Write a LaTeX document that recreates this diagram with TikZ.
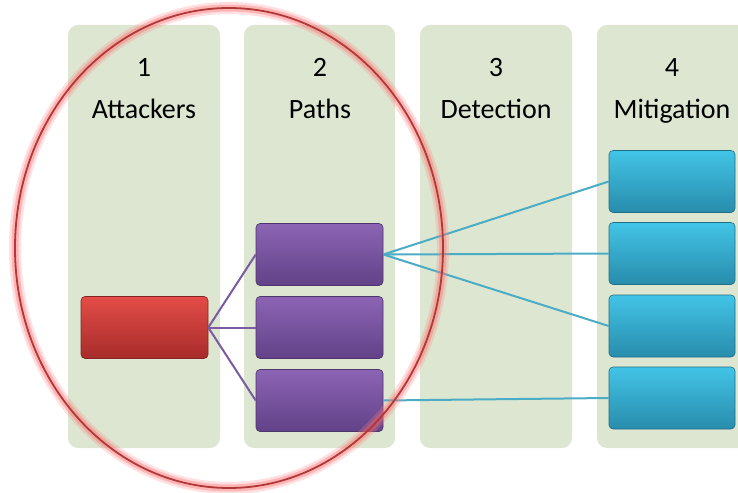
\documentclass[tikz,border=0pt]{standalone}
\usepackage{fontspec}
\setmainfont{Carlito}
\definecolor{panelgreen}{RGB}{221,230,209}
\definecolor{redtop}{RGB}{228,76,72}
\definecolor{redbot}{RGB}{166,44,42}
\definecolor{purtop}{RGB}{140,100,180}
\definecolor{purbot}{RGB}{98,66,136}
\definecolor{blutop}{RGB}{66,196,230}
\definecolor{blubot}{RGB}{40,140,172}
\definecolor{pline}{RGB}{122,90,160}
\definecolor{bline}{RGB}{75,172,198}
\definecolor{ellred}{RGB}{176,56,56}
\begin{document}
\begin{tikzpicture}[x=1pt,y=-1pt,
  panel/.style={fill=panelgreen, rounded corners=10pt, draw=none},
  box/.style={rectangle, rounded corners=4pt, minimum width=127pt, minimum height=62pt, inner sep=0pt},
  redbox/.style={box, top color=redtop, bottom color=redbot, draw=redbot!80!black, line width=0.6pt},
  purbox/.style={box, top color=purtop, bottom color=purbot, draw=purbot!80!black, line width=0.6pt},
  blubox/.style={box, top color=blutop, bottom color=blubot, draw=blubot!80!black, line width=0.6pt, minimum width=126pt},
  plink/.style={draw=pline, line width=2pt},
  blink/.style={draw=bline, line width=2pt},
  lbl/.style={anchor=base, inner sep=0pt, font=\fontsize{28}{33}\selectfont}
]
\useasboundingbox (0,0) rectangle (738,492);
% panels
\fill[panel] (68,25) rectangle (220,448);
\fill[panel] (244,25) rectangle (395,448);
\fill[panel] (420,25) rectangle (572,448);
\fill[panel] (597,25) rectangle (760,448);
% headers
\node[lbl] (n1) at (144,77) {1};
\node[lbl] (h1) at (144,118) {Attackers};
\node[lbl] (n2) at (320,77) {2};
\node[lbl] (h2) at (320,118) {Paths};
\node[lbl] (n3) at (496,77) {3};
\node[lbl] (h3) at (496,118) {Detection};
\node[lbl] (n4) at (672,77) {4};
\node[lbl] (h4) at (672,118) {Mitigation};
% boxes
\node[redbox] (r) at (144.5,327.5) {};
\node[purbox] (p1) at (319.5,254.5) {};
\node[purbox] (p2) at (319.5,327.5) {};
\node[purbox] (p3) at (319.5,400.5) {};
\node[blubox] (b1) at (672,181.5) {};
\node[blubox] (b2) at (672,253.5) {};
\node[blubox] (b3) at (672,326) {};
\node[blubox] (b4) at (672,398) {};
% connectors
\draw[plink] (r.east) -- (p1.west);
\draw[plink] (r.east) -- (p2.west);
\draw[plink] (r.east) -- (p3.west);
\draw[blink] (p1.east) -- (b1.west);
\draw[blink] (p1.east) -- (b2.west);
\draw[blink] (p1.east) -- (b3.west);
\draw[blink] (p3.east) -- (b4.west);
% ellipse with glow
\draw[red!50, opacity=0.25, line width=12pt] (229,248) ellipse [x radius=214pt, y radius=240pt];
\draw[red!60, opacity=0.35, line width=7pt] (229,248) ellipse [x radius=214pt, y radius=240pt];
\draw[ellred, line width=1.8pt] (229,248) ellipse [x radius=214pt, y radius=240pt];
\end{tikzpicture}
\end{document}
